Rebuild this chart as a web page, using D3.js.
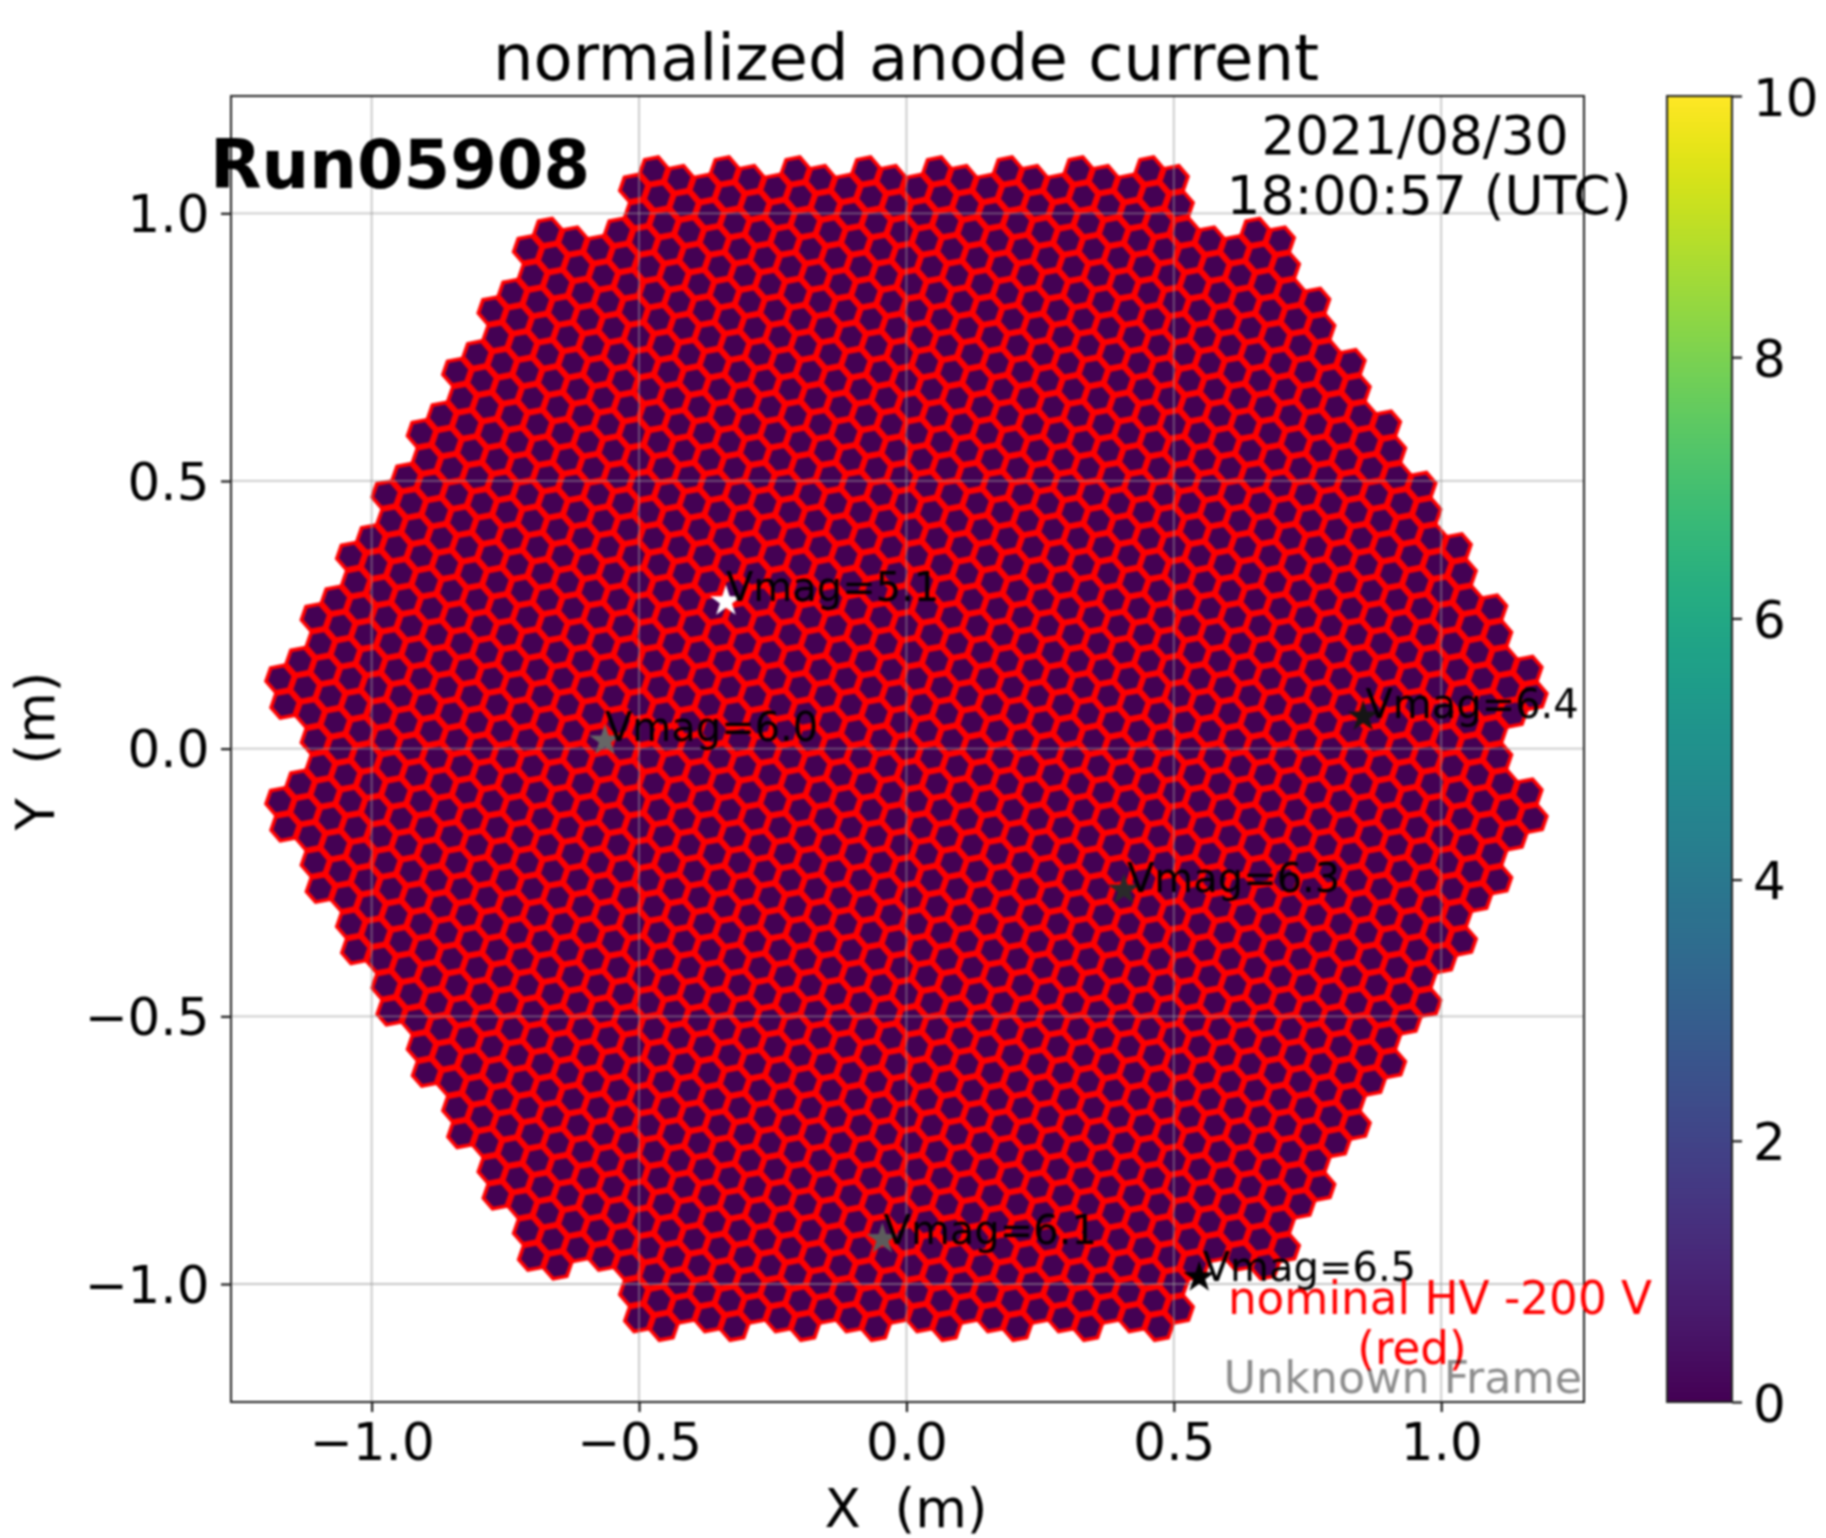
<!DOCTYPE html>
<html>
<head>
<meta charset="utf-8">
<script src="https://cdn.jsdelivr.net/npm/d3@7/dist/d3.min.js"></script>
<style>
html,body{margin:0;padding:0;background:#fff;}
svg{display:block;filter:blur(0.8px);}
text{font-family:"DejaVu Sans",sans-serif;}
</style>
</head>
<body>
<svg id="c" width="1826" height="1538"></svg>
<script>
// ---- data ----
const titleText = "normalized anode current";
const runLabel = "Run05908";
const dateLines = ["2021/08/30", "18:00:57 (UTC)"];
const hvLines = ["nominal HV -200 V", "(red)"];
const frameLabel = "Unknown Frame";
const xLabelText = "X  (m)";
const yLabelText = "Y  (m)";
const xTicks = [-1, -0.5, 0, 0.5, 1];
const yTicks = [-1, -0.5, 0, 0.5, 1];
const cbTicks = [0, 2, 4, 6, 8, 10];
const currentRange = [0, 10];
// camera: modules of seven pixels, module count per row from top to bottom
const moduleRowCounts = [8,11,12,13,14,15,16,17,18,17,18,17,16,15,14,13,12,11,8];
const moduleSpacing = 0.1323;      // m
const pixelSpacing = 0.05;         // m
const pixelAngles = [-19.1, 40.9, 100.9, 160.9, 220.9, 280.9]; // neighbours in a module, deg
const pixelCurrent = 0;            // every pixel reads as the bottom of the scale
// stars
const starX = [-0.3375, -0.5638, 0.854, 0.4067, -0.045, 0.5475];
const starY = [0.275, 0.015, 0.06, -0.264, -0.916, -0.9875];
const starLabelX = [-0.3375, -0.5638, 0.8583, 0.4123, -0.0428, 0.554];
const starLabelY = [0.275, 0.015, 0.0578, -0.2683, -0.9253, -0.995];
const starMag = ["5.1", "6.0", "6.4", "6.3", "6.1", "6.5"];
const starFill = ["#ffffff", "#666666", "#151515", "#2a2a2a", "#5c5c5c", "#000000"];

// ---- scales ----
const x = d3.scaleLinear().domain([-1.263, 1.267]).range([231, 1584]);
const y = d3.scaleLinear().domain([-1.2204, 1.2191]).range([1402, 96]);
const cbY = d3.scaleLinear().domain(currentRange).range([1402, 96]);
const color = d3.scaleSequential(d3.interpolateViridis).domain(currentRange);
const svg = d3.select("#c");

// ---- camera pixels ----
const pixels = [];
moduleRowCounts.forEach((count, r) => {
  const cy = (9 - r) * moduleSpacing * Math.sqrt(3) / 2;
  d3.range(count).forEach(i => {
    const cx = (i - (count - 1) / 2) * moduleSpacing;
    pixels.push({x: cx, y: cy, v: pixelCurrent});
    pixelAngles.forEach(a => {
      const t = a * Math.PI / 180;
      pixels.push({x: cx + pixelSpacing * Math.cos(t), y: cy + pixelSpacing * Math.sin(t), v: pixelCurrent});
    });
  });
});
const hexR = 0.0261;
const hexPath = d => {
  const pts = d3.range(6).map(k => {
    const t = (10.9 + 60 * k) * Math.PI / 180;
    return [x(d.x + hexR * Math.cos(t)), y(d.y + hexR * Math.sin(t))];
  });
  return "M" + pts.map(p => p.join(",")).join("L") + "Z";
};
svg.append("g").selectAll("path").data(pixels).join("path")
  .attr("d", hexPath)
  .attr("fill", d => color(d.v))
  .attr("stroke", "#ff0000")
  .attr("stroke-width", 3.7)
  .attr("stroke-linejoin", "miter");

// ---- grid ----
const grid = svg.append("g").attr("stroke", "#999").attr("stroke-opacity", 0.55).attr("stroke-width", 1.8);
grid.selectAll("line.v").data(xTicks).join("line").attr("class", "v")
  .attr("x1", d => x(d)).attr("x2", d => x(d)).attr("y1", y.range()[0]).attr("y2", y.range()[1]);
grid.selectAll("line.h").data(yTicks).join("line").attr("class", "h")
  .attr("y1", d => y(d)).attr("y2", d => y(d)).attr("x1", x.range()[0]).attr("x2", x.range()[1]);

// ---- stars ----
const star = d3.symbol().type(d3.symbolStar).size(310);
const starG = svg.append("g");
starMag.forEach((m, i) => {
  starG.append("path").attr("d", star)
    .attr("transform", `translate(${x(starX[i])},${y(starY[i])})`)
    .attr("fill", starFill[i]);
});
starMag.forEach((m, i) => {
  starG.append("text").attr("x", x(starLabelX[i])).attr("y", y(starLabelY[i]))
    .attr("font-size", 40).attr("fill", "#000").text("Vmag=" + m);
});

// ---- axes ----
function styleAxis(g) {
  g.select(".domain").remove();
  g.selectAll(".tick line").attr("stroke", "#000").attr("stroke-width", 2);
  g.selectAll(".tick text").attr("font-size", 51.5).attr("fill", "#000")
    .style("font-family", '"DejaVu Sans",sans-serif');
}
svg.append("g").attr("transform", "translate(0,1402)")
  .call(d3.axisBottom(x).tickValues(xTicks).tickFormat(d3.format(".1f")).tickSize(10).tickPadding(11.5))
  .call(styleAxis);
svg.append("g").attr("transform", "translate(231,0)")
  .call(d3.axisLeft(y).tickValues(yTicks).tickFormat(d3.format(".1f")).tickSize(10).tickPadding(11.5))
  .call(styleAxis)
  .selectAll(".tick text").attr("dy", "0.35em");
svg.append("rect").attr("x", 231).attr("y", 96).attr("width", 1353).attr("height", 1306)
  .attr("fill", "none").attr("stroke", "#222").attr("stroke-width", 2);

// ---- colour bar ----
const cbSteps = d3.range(0, 256);
const cbVal = d3.scaleLinear().domain([0, 256]).range(currentRange);
svg.append("g").selectAll("rect").data(cbSteps).join("rect")
  .attr("x", 1667).attr("width", 65)
  .attr("y", d => cbY(cbVal(d + 1)))
  .attr("height", d => Math.min(cbY(cbVal(d)) - cbY(cbVal(d + 1)) + 1, 1402 - cbY(cbVal(d + 1))))
  .attr("fill", d => color(cbVal(d) * 256 / 255));
svg.append("g").attr("transform", "translate(1732,0)")
  .call(d3.axisRight(cbY).tickValues(cbTicks).tickFormat(d3.format("d")).tickSize(10).tickPadding(11))
  .call(styleAxis)
  .selectAll(".tick text").attr("dy", "0.37em");
svg.append("rect").attr("x", 1667).attr("y", 96).attr("width", 65).attr("height", 1306)
  .attr("fill", "none").attr("stroke", "#222").attr("stroke-width", 2);

// ---- texts ----
function label(txt, px, py, size, opts = {}) {
  const t = svg.append("text").attr("x", px).attr("y", py).attr("font-size", size)
    .attr("fill", opts.fill || "#000").attr("text-anchor", opts.anchor || "middle")
    .attr("font-weight", opts.weight || "normal").attr("xml:space", "preserve").text(txt);
  if (opts.opacity) t.attr("fill-opacity", opts.opacity);
  if (opts.rotate) t.attr("transform", `rotate(${opts.rotate},${px},${py})`);
  return t;
}
label(titleText, 906, 80, 64);
label(runLabel, 210, 188, 67, {anchor: "start", weight: "bold"});
label(dateLines[0], 1415, 154, 53.3);
label(dateLines[1], 1429, 214, 53.5);
label(hvLines[0], 1440, 1314, 45.3, {fill: "#ff0000"});
label(hvLines[1], 1412, 1364, 45.3, {fill: "#ff0000"});
label(frameLabel, 1582, 1393, 44.4, {anchor: "end", opacity: 0.45});
label(xLabelText, 906, 1527, 53);
label(yLabelText, 54, 751, 53, {rotate: -90});
</script>
</body>
</html>
